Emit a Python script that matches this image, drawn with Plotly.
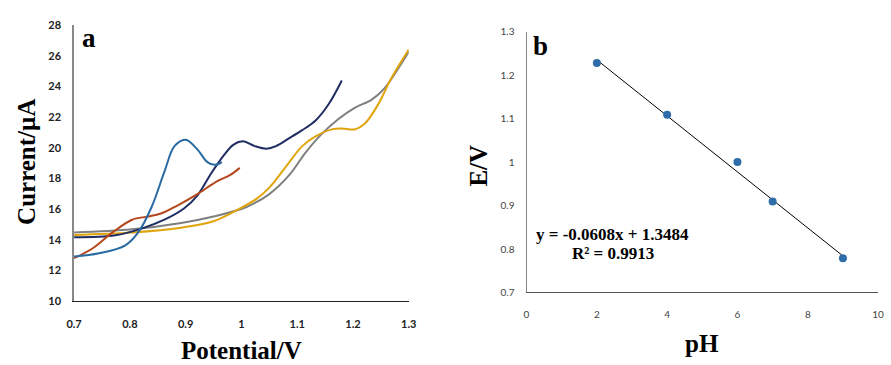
import plotly.graph_objects as go

# ---- Panel a data (potential V, current µA) ----
lb_x = [0.70, 0.745, 0.792, 0.815, 0.839, 0.862, 0.880, 0.900, 0.921, 0.939, 0.953, 0.965]
lb_y = [12.92, 13.13, 13.65, 14.49, 16.15, 18.45, 20.12, 20.54, 19.91, 19.08, 18.90, 19.08]

nv_x = [0.70, 0.774, 0.821, 0.862, 0.897, 0.921, 0.944, 0.968, 0.986, 1.003, 1.024, 1.045, 1.062, 1.086, 1.109, 1.133, 1.156, 1.180]
nv_y = [14.17, 14.30, 14.74, 15.32, 16.05, 16.89, 18.24, 19.50, 20.22, 20.43, 20.12, 19.95, 20.12, 20.64, 21.16, 21.79, 22.83, 24.40]

br_x = [0.70, 0.733, 0.769, 0.804, 0.833, 0.857, 0.886, 0.921, 0.956, 0.980, 0.997]
br_y = [12.81, 13.44, 14.49, 15.32, 15.53, 15.74, 16.26, 16.99, 17.82, 18.24, 18.70]

gr_x = [0.70, 0.804, 0.892, 0.950, 1.009, 1.050, 1.086, 1.115, 1.145, 1.174, 1.203, 1.233, 1.256, 1.280, 1.300]
gr_y = [14.49, 14.70, 15.11, 15.53, 16.15, 16.99, 18.24, 19.70, 20.95, 21.89, 22.62, 23.14, 23.87, 25.12, 26.27]

ye_x = [0.70, 0.804, 0.892, 0.950, 0.992, 1.027, 1.050, 1.086, 1.109, 1.133, 1.162, 1.180, 1.203, 1.221, 1.245, 1.268, 1.300]
ye_y = [14.33, 14.49, 14.80, 15.22, 15.95, 16.68, 17.41, 19.08, 20.12, 20.75, 21.21, 21.27, 21.21, 21.58, 22.83, 24.50, 26.42]

a_xticks = [0.7, 0.8, 0.9, 1.0, 1.1, 1.2, 1.3]
a_xlabels = ["0.7", "0.8", "0.9", "1", "1.1", "1.2", "1.3"]
a_yticks = [10, 12, 14, 16, 18, 20, 22, 24, 26, 28]

# ---- Panel b data ----
ph = [2, 4, 6, 7, 9]
ev = [1.228, 1.109, 1.00, 0.909, 0.779]
fit_x = [2, 9]
fit_y = [1.235, 0.784]
eq_text = "y = -0.0608x + 1.3484"
r2_text = "R² = 0.9913"
b_xticks = [0, 2, 4, 6, 8, 10]
b_yticks = [0.7, 0.8, 0.9, 1.0, 1.1, 1.2, 1.3]
b_ylabels = ["0.7", "0.8", "0.9", "1", "1.1", "1.2", "1.3"]

fig = go.Figure()

series = [
    (gr_x, gr_y, "#7f7f7f"),
    (ye_x, ye_y, "#e0a40c"),
    (nv_x, nv_y, "#1f2d63"),
    (br_x, br_y, "#b5461c"),
    (lb_x, lb_y, "#2a6aa3"),
]
for xs, ys, c in series:
    fig.add_trace(go.Scatter(x=xs, y=ys, mode="lines", line=dict(color=c, width=2, shape="spline", smoothing=1.0),
                             xaxis="x", yaxis="y", showlegend=False, hoverinfo="skip"))

fig.add_trace(go.Scatter(x=fit_x, y=fit_y, mode="lines", line=dict(color="black", width=1),
                         xaxis="x2", yaxis="y2", showlegend=False))
fig.add_trace(go.Scatter(x=ph, y=ev, mode="markers", marker=dict(color="#2e6daa", size=8),
                         xaxis="x2", yaxis="y2", showlegend=False))

tickfont_a = dict(family="Lato", size=11, color="#222", weight="bold")
tickfont_b = dict(family="Lato", size=10, color="#444")

fig.update_layout(
    width=891, height=365,
    margin=dict(l=0, r=0, t=0, b=0),
    paper_bgcolor="white", plot_bgcolor="white",
    xaxis=dict(domain=[0.0755, 0.458], range=[0.7, 1.3], tickvals=a_xticks, ticktext=a_xlabels,
               showgrid=False, zeroline=False, showline=True, linecolor="#222", linewidth=1,
               ticks="", tickfont=tickfont_a, ticklabelstandoff=13, anchor="y"),
    yaxis=dict(domain=[0.164, 0.948], range=[10, 28], tickvals=a_yticks,
               showgrid=False, zeroline=False, showline=True, linecolor="#888", linewidth=1.5,
               ticks="", tickfont=tickfont_a, ticklabelstandoff=9, anchor="x"),
    xaxis2=dict(domain=[0.5926, 0.9944], range=[0, 10], tickvals=b_xticks,
                showgrid=False, zeroline=False, showline=True, linecolor="#555", linewidth=1,
                ticks="", tickfont=tickfont_b, ticklabelstandoff=13, anchor="y2"),
    yaxis2=dict(domain=[0.189, 0.930], range=[0.7, 1.3], tickvals=b_yticks, ticktext=b_ylabels,
                showgrid=False, zeroline=False, showline=True, linecolor="#888", linewidth=1,
                ticks="", tickfont=tickfont_b, ticklabelstandoff=9, anchor="x2"),
)

tf = "Liberation Serif"
ann = [
    dict(text="<b>Current/µA</b>", x=19, y=161, textangle=-90, size=25),
    dict(text="<b>Potential/V</b>", x=238, y=356, size=25),
    dict(text="<b>a</b>", x=82, y=32, size=27),
    dict(text="<b>E/V</b>", x=479, y=164, textangle=-90, size=25),
    dict(text="<b>pH</b>", x=707, y=349, size=25),
    dict(text="<b>b</b>", x=542, y=40, size=27),
    dict(text="<b>" + eq_text + "</b>", x=616, y=236, size=17),
    dict(text="<b>" + r2_text + "</b>", x=616, y=256, size=17),
]
for a in ann:
    fig.add_annotation(text=a["text"], xref="paper", yref="paper",
                       x=a["x"] / 891, y=1 - a["y"] / 365, xanchor="center", yanchor="middle",
                       textangle=a.get("textangle", 0), showarrow=False,
                       font=dict(family=tf, size=a["size"], color="black"))

fig.write_html("out.html")
